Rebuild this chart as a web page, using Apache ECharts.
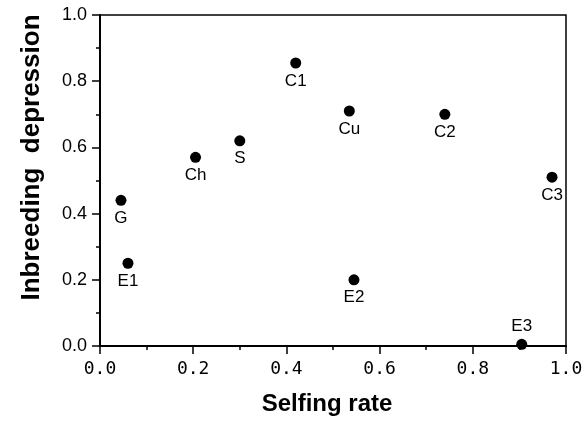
<!DOCTYPE html>
<html>
<head>
<meta charset="utf-8">
<script src="https://cdn.jsdelivr.net/npm/echarts@6/dist/echarts.min.js"></script>
<style>
  html, body { margin: 0; padding: 0; background: #fff; }
  #main { width: 586px; height: 427px; }
</style>
</head>
<body>
<div id="main"></div>
<script>
// populations and their values
var names = ['G', 'E1', 'Ch', 'S', 'C1', 'Cu', 'C2', 'C3', 'E2', 'E3'];
var selfing = [0.045, 0.06, 0.205, 0.30, 0.42, 0.535, 0.74, 0.97, 0.545, 0.905];
var inbreeding = [0.44, 0.25, 0.57, 0.62, 0.855, 0.71, 0.70, 0.51, 0.20, 0.005];
var ticks = [0, 0.2, 0.4, 0.6, 0.8, 1.0];

var ink = '#000';

var points = [];
for (var i = 0; i < names.length; i++) {
    var p = {
        name: names[i],
        value: [selfing[i], inbreeding[i]]
    };
    // E3 sits on the axis, its label goes above
    if (names[i] === 'E3') {
        p.label = { position: 'top' };
    }
    points.push(p);
}

var axisCommon = {
    type: 'value',
    min: ticks[0],
    max: ticks[ticks.length - 1],
    interval: 0.2,
    axisLine: { show: true, lineStyle: { color: ink, width: 2 } },
    axisTick: { show: true, inside: false, length: 8, lineStyle: { color: ink, width: 1.5 } },
    minorTick: { show: true, splitNumber: 2, length: 4, lineStyle: { color: ink, width: 1.5 } },
    splitLine: { show: false },
    nameLocation: 'middle'
};

var option = {
    backgroundColor: '#fff',
    animation: false,
    grid: {
        left: 100,
        right: 20,
        top: 15,
        bottom: 81,
        show: true,
        borderColor: ink,
        borderWidth: 1.5
    },
    xAxis: Object.assign({}, axisCommon, {
        name: 'Selfing rate',
        nameGap: 46,
        nameTextStyle: {
            fontFamily: 'Liberation Sans',
            fontWeight: 'bold',
            fontSize: 24,
            color: ink,
            padding: [0, 12, 0, 0]
        },
        axisLabel: {
            margin: 14,
            fontFamily: 'DejaVu Sans Mono',
            fontSize: 18,
            color: ink,
            formatter: function(v) { return v.toFixed(1); }
        }
    }),
    yAxis: Object.assign({}, axisCommon, {
        name: 'Inbreeding  depression',
        nameGap: 55,
        nameTextStyle: {
            fontFamily: 'Liberation Sans',
            fontWeight: 'bold',
            fontSize: 26,
            color: ink,
            padding: [0, 0, 0, 46]
        },
        axisLabel: {
            margin: 13,
            fontFamily: 'Liberation Sans',
            fontSize: 18,
            color: ink,
            formatter: function(v) { return v.toFixed(1); }
        }
    }),
    series: [{
        type: 'scatter',
        symbol: 'circle',
        symbolSize: 11,
        itemStyle: { color: ink, opacity: 1 },
        label: {
            show: true,
            position: 'bottom',
            distance: 4,
            formatter: '{b}',
            fontFamily: 'Liberation Sans',
            fontSize: 17,
            color: ink
        },
        data: points
    }]
};

var myChart = echarts.init(document.getElementById('main'));
myChart.setOption(option);
</script>
</body>
</html>
